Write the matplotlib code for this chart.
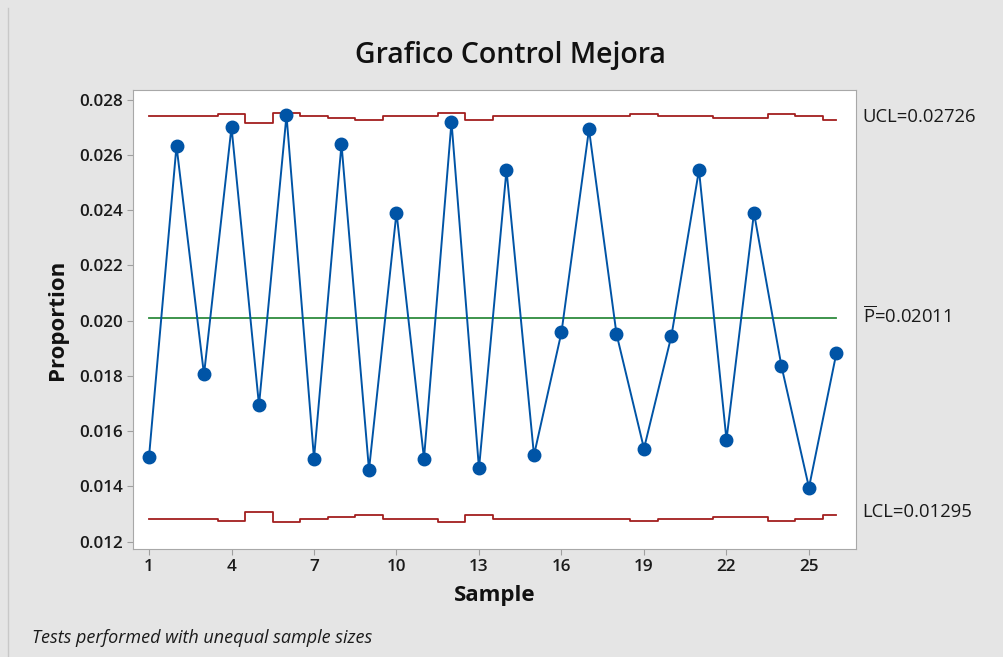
import matplotlib
matplotlib.use("Agg")
import matplotlib.pyplot as plt
from matplotlib.lines import Line2D

plt.rcParams['font.family'] = ['Open Sans', 'DejaVu Sans']
plt.rcParams['mathtext.fontset'] = 'custom'
plt.rcParams['mathtext.rm'] = 'Open Sans'

samples = list(range(1, 27))
proportion = [0.01507, 0.02632, 0.01805, 0.02700, 0.01694, 0.02743, 0.01501,
              0.02638, 0.01460, 0.02391, 0.01501, 0.02719, 0.01465, 0.02545,
              0.01513, 0.01958, 0.02692, 0.01952, 0.01537, 0.01946, 0.02545,
              0.01569, 0.02390, 0.01835, 0.01396, 0.01884]
ucl = [0.02739, 0.02739, 0.02739, 0.02747, 0.02716, 0.02751, 0.02739, 0.02733,
       0.02727, 0.02739, 0.02739, 0.02751, 0.02727, 0.02740, 0.02740, 0.02740,
       0.02740, 0.02740, 0.02747, 0.02740, 0.02740, 0.02733, 0.02733, 0.02747,
       0.02740, 0.02726]
lcl = [0.01283, 0.01283, 0.01283, 0.01275, 0.01306, 0.01271, 0.01283, 0.01289,
       0.01295, 0.01283, 0.01283, 0.01271, 0.01295, 0.01282, 0.01282, 0.01282,
       0.01282, 0.01282, 0.01275, 0.01282, 0.01282, 0.01289, 0.01289, 0.01275,
       0.01282, 0.01295]
pbar = 0.02011
xticks = [1, 4, 7, 10, 13, 16, 19, 22, 25]
yticks = [0.012, 0.014, 0.016, 0.018, 0.020, 0.022, 0.024, 0.026, 0.028]

bg = '#E5E5E5'
fig = plt.figure(figsize=(10.04, 6.57), dpi=100, facecolor=bg)
ax = fig.add_axes([133/1004, 1-549/657, (856-133)/1004, (549-90)/657])
ax.set_facecolor('white')

red = '#A31F1F'
ax.step(samples, ucl, where='mid', color=red, lw=1.3)
ax.step(samples, lcl, where='mid', color=red, lw=1.3)
ax.axhline(pbar, xmin=(1-0.418)/(26.71-0.418), xmax=(26-0.418)/(26.71-0.418),
           color='#2E8B3E', lw=1.3)
ax.plot(samples, proportion, color='#0054A6', lw=1.4, marker='o', ms=9,
        markerfacecolor='#0054A6', markeredgecolor='#0054A6')

ax.set_xlim(0.418, 26.71)
ax.set_ylim(0.011736, 0.028344)
ax.set_xticks(xticks)
ax.set_xticklabels([str(t) for t in xticks])
ax.set_yticks(yticks)
ax.set_yticklabels([f'{t:.3f}' for t in yticks])
for s in ax.spines.values():
    s.set_color('#A8A8A8')
    s.set_linewidth(0.8)
ax.tick_params(axis='both', direction='out', length=4, width=0.8, color='#A0A0A0',
               labelsize=12.3, labelcolor='#1A1A1A')
for lab in ax.get_xticklabels() + ax.get_yticklabels():
    lab.set_fontweight('semibold')

ax.set_xlabel('Sample', fontsize=16, fontweight='bold', labelpad=7, color='#111111')
ax.set_ylabel('Proportion', fontsize=16, fontweight='bold', labelpad=8, color='#111111')

trans = ax.get_yaxis_transform()
ax.text(1.009, ucl[-1] + 0.00011, f'UCL={ucl[-1]:.5f}', transform=trans, va='center',
        ha='left', fontsize=13.3, color='#1A1A1A', clip_on=False)
ax.text(1.009, pbar + 0.00006, r'$\overline{\mathregular{P}}$' + f'={pbar:.5f}', transform=trans,
        va='center', ha='left', fontsize=13.3, color='#1A1A1A', clip_on=False)
ax.text(1.009, lcl[-1] + 0.00011, f'LCL={lcl[-1]:.5f}', transform=trans, va='center',
        ha='left', fontsize=13.3, color='#1A1A1A', clip_on=False)

fig.text(510/1004, 1-55/657, 'Grafico Control Mejora', ha='center', va='center',
         fontsize=20.5, fontweight='semibold', color='#111111')
fig.text(32/1004, 1-638/657, 'Tests performed with unequal sample sizes', ha='left',
         va='center', fontsize=13, style='italic', color='#1A1A1A')

fig.add_artist(Line2D([8/1004, 8/1004], [0, 1-8/657], transform=fig.transFigure,
                      color='#C8C8C8', lw=1))

fig.savefig('out.png', dpi=100, facecolor=bg)
